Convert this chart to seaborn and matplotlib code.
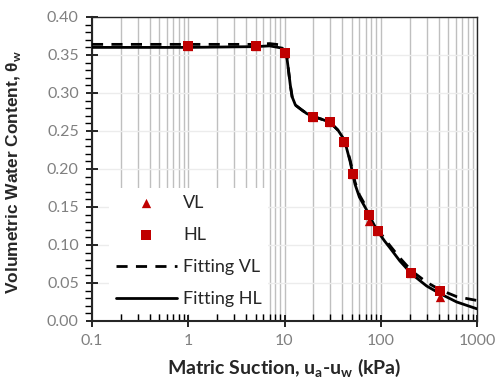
import numpy as np
import pandas as pd
import seaborn as sns
import matplotlib
matplotlib.use('Agg')
import matplotlib.pyplot as plt
from matplotlib.ticker import LogLocator, MultipleLocator, NullFormatter

# measured points
suction_pts = [1, 5, 10, 20, 30, 42, 51, 76, 93, 208, 410]
theta_hl = [0.362, 0.362, 0.352, 0.268, 0.262, 0.236, 0.194, 0.140, 0.118, 0.063, 0.039]
theta_vl = [0.362, 0.362, 0.352, 0.268, 0.262, 0.236, 0.194, 0.131, 0.118, 0.063, 0.032]

# fitted curves
suction_fit = [0.1, 1, 5, 7, 9.5, 10.5, 11, 11.5, 12, 13, 15, 17, 20, 25, 30, 36, 42, 48,
               54, 60, 70, 84, 94, 110, 125, 158, 209, 300, 413, 616, 1000]
fit_hl = [0.360, 0.360, 0.361, 0.362, 0.359, 0.350, 0.330, 0.310, 0.295, 0.284, 0.278, 0.273,
          0.269, 0.265, 0.261, 0.251, 0.238, 0.210, 0.180, 0.163, 0.148, 0.128, 0.117, 0.105,
          0.096, 0.079, 0.062, 0.046, 0.036, 0.025, 0.016]
fit_vl = [0.364, 0.364, 0.364, 0.365, 0.363, 0.352, 0.330, 0.310, 0.295, 0.284, 0.278, 0.273,
          0.269, 0.265, 0.261, 0.251, 0.238, 0.212, 0.183, 0.166, 0.151, 0.131, 0.120, 0.108,
          0.099, 0.083, 0.066, 0.051, 0.041, 0.032, 0.027]

x_ticks = [0.1, 1, 10, 100, 1000]
x_ticklabels = ['0.1', '1', '10', '100', '1000']

sns.set_style('ticks')
plt.rcParams['font.family'] = ['Lato', 'DejaVu Sans']
plt.rcParams['mathtext.fontset'] = 'custom'
plt.rcParams['mathtext.rm'] = 'Lato'
plt.rcParams['mathtext.bf'] = 'Lato:bold'

red = '#C00000'
tick_col = '#808080'

fig = plt.figure(figsize=(4.95, 3.83), dpi=100)
ax = fig.add_axes([92 / 495, 62 / 383, 385 / 495, 304 / 383])

pts = pd.DataFrame({'s': suction_pts, 'hl': theta_hl, 'vl': theta_vl})
fit = pd.DataFrame({'s': suction_fit, 'hl': fit_hl, 'vl': fit_vl})

sns.lineplot(data=fit, x='s', y='vl', ax=ax, sort=False, color='black', lw=2.0,
             label='Fitting VL', zorder=3).lines[-1].set_dashes((4, 3))
sns.lineplot(data=fit, x='s', y='hl', ax=ax, sort=False, color='black', lw=2.0,
             label='Fitting HL', zorder=3)
sns.scatterplot(data=pts, x='s', y='vl', ax=ax, marker='^', s=45, color=red,
                edgecolor=red, linewidth=0, label='VL', zorder=4)
sns.scatterplot(data=pts, x='s', y='hl', ax=ax, marker='s', s=60, color=red,
                edgecolor=red, linewidth=0, label='HL', zorder=5)

ax.set_xscale('log')
ax.set_xlim(0.1, 1000)
ax.set_ylim(0, 0.40)

ax.xaxis.set_minor_locator(LogLocator(base=10, subs=np.arange(2, 10), numticks=20))
ax.set_xticks(x_ticks)
ax.set_xticklabels(x_ticklabels)
ax.xaxis.set_minor_formatter(NullFormatter())
ax.yaxis.set_major_locator(MultipleLocator(0.05))
ax.yaxis.set_minor_locator(MultipleLocator(0.01))
ax.yaxis.set_major_formatter(plt.FuncFormatter(lambda v, p: f'{v:.2f}'))

ax.set_axisbelow(True)
ax.grid(True, axis='x', which='both', color='#bfbfbf', lw=1.0)
ax.grid(True, axis='y', which='major', color='#ececec', lw=1.0)

ax.tick_params(axis='both', which='major', direction='inout', length=9, width=1.2,
               labelsize=11.5, labelcolor=tick_col, color='black', pad=5)
ax.tick_params(axis='x', which='minor', direction='in', length=5, width=1.0, color='black')
ax.tick_params(axis='y', which='minor', direction='out', length=5, width=1.0, color='black')

for side in ['left', 'bottom']:
    ax.spines[side].set_linewidth(1.5)
for side in ['top', 'right']:
    ax.spines[side].set_visible(True)
    ax.spines[side].set_linewidth(1.0)

ax.set_xlabel('Matric Suction, u$_\\mathbf{a}$-u$_\\mathbf{w}$ (kPa)', fontsize=14,
              fontweight='bold')
ax.set_ylabel('Volumetric Water Content, θ$_\\mathbf{w}$', fontsize=12.5, fontweight='bold',
              family=['Liberation Sans', 'DejaVu Sans'])
ax.xaxis.set_label_coords(0.50, -0.118)
ax.yaxis.set_label_coords(-0.18, 0.49)

h, l = ax.get_legend_handles_labels()
order = [l.index(k) for k in ['VL', 'HL', 'Fitting VL', 'Fitting HL']]
leg = ax.legend([h[i] for i in order], [l[i] for i in order], loc='lower left',
                bbox_to_anchor=(0.026, 0.0),
                fontsize=13, frameon=True, framealpha=1, facecolor='white',
                edgecolor='none', fancybox=False, handlelength=3.4, handletextpad=0.33,
                labelspacing=0.9, borderpad=0.35, borderaxespad=0.4)
leg.set_zorder(6)

fig.savefig('out.png', dpi=100)
